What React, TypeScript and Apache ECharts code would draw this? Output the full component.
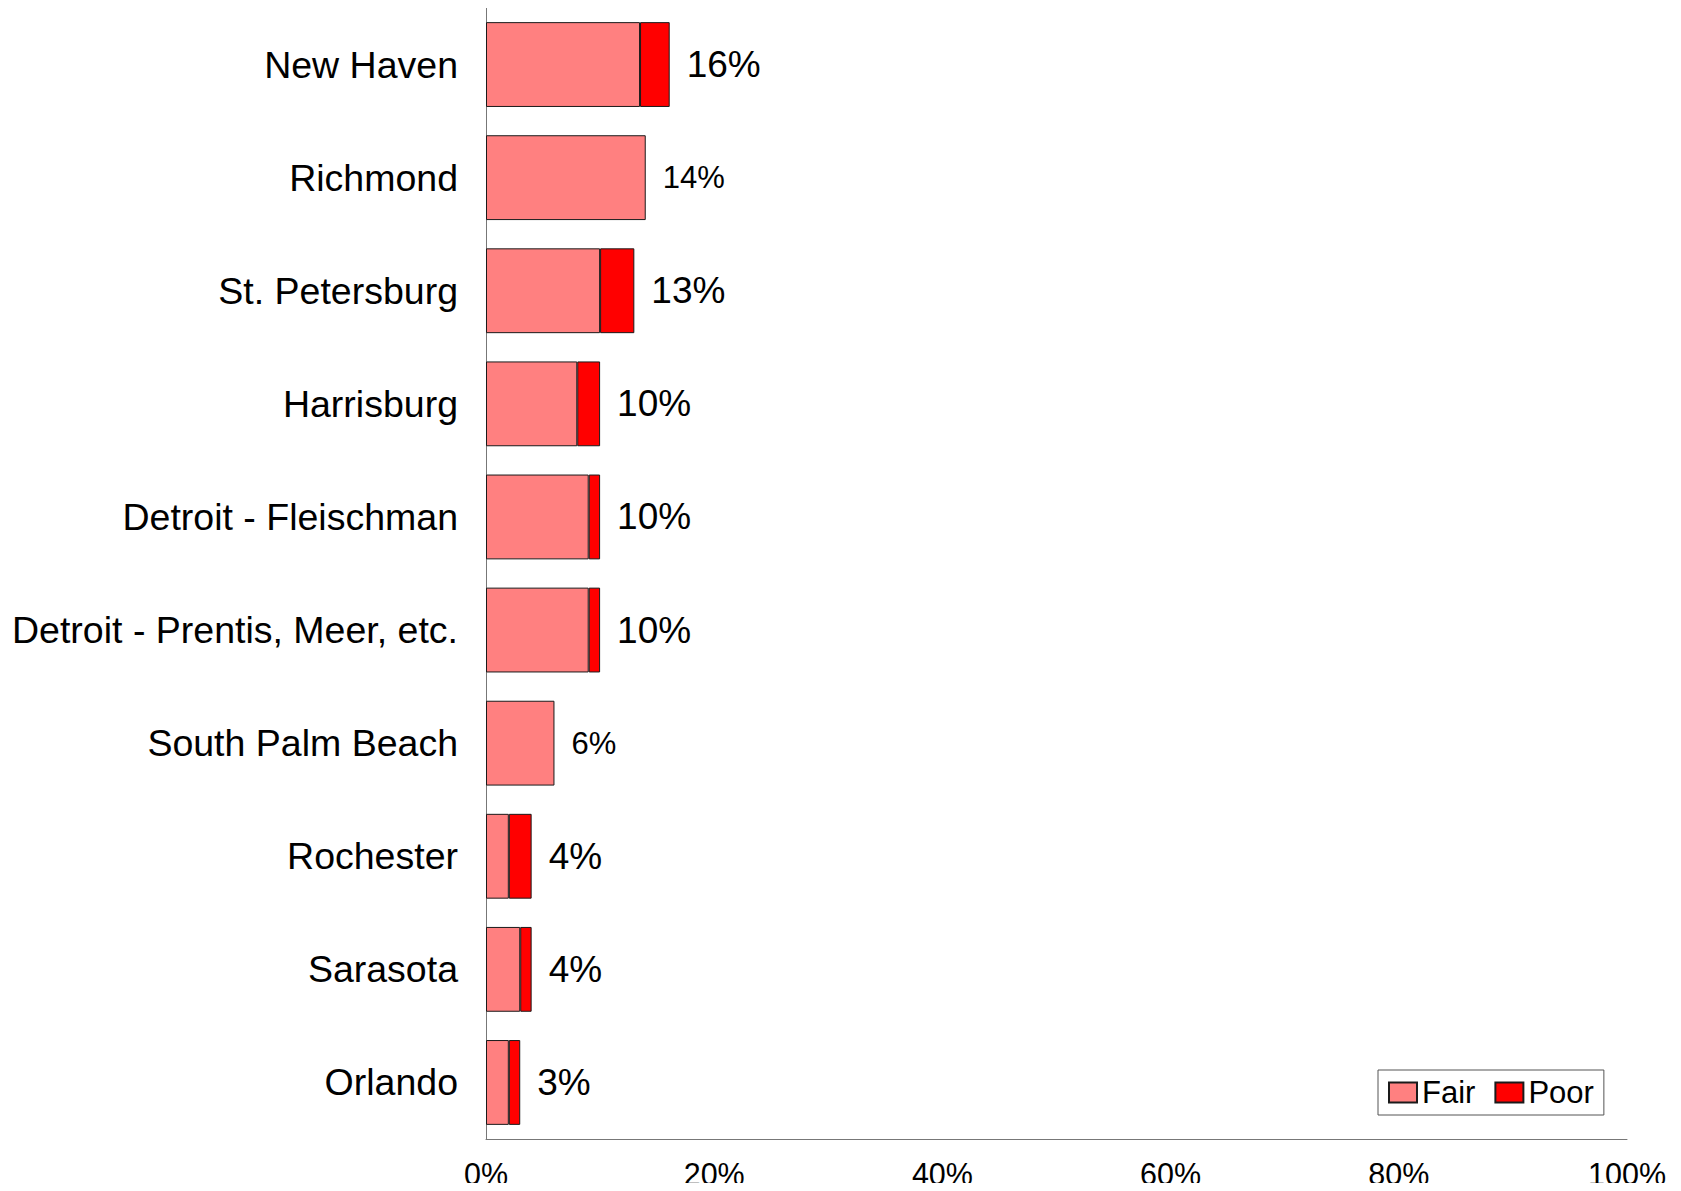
import React, { useEffect, useRef } from "react";
import * as echarts from "echarts";

const categories = [
  "New Haven",
  "Richmond",
  "St. Petersburg",
  "Harrisburg",
  "Detroit - Fleischman",
  "Detroit - Prentis, Meer, etc.",
  "South Palm Beach",
  "Rochester",
  "Sarasota",
  "Orlando",
];
const fairValues = [13.5, 14.0, 10.0, 8.0, 9.0, 9.0, 6.0, 2.0, 3.0, 2.0];
const poorValues = [2.6, 0, 3.0, 2.0, 1.0, 1.0, 0, 2.0, 1.0, 1.0];
const xTicks = [0, 20, 40, 60, 80, 100];

const FONT = "Liberation Sans, Arial, sans-serif";

export default function App() {
  const ref = useRef<HTMLDivElement>(null);
  useEffect(() => {
    if (!ref.current) return;
    const chart = echarts.init(ref.current, null, { renderer: "svg" });
    const border = { borderColor: "#1a1a1a", borderWidth: 1 };
    chart.setOption({
      animation: false,
      textStyle: { fontFamily: FONT },
      grid: {
        left: 478,
        right: 46,
        top: 0,
        bottom: 52,
        containLabel: false,
        outerBoundsMode: "none",
      },
      legend: {
        data: ["Fair", "Poor"],
        left: 1370,
        top: 1062,
        orient: "horizontal",
        borderColor: "#555",
        borderWidth: 1,
        padding: [7, 10, 7, 10],
        itemWidth: 28,
        itemHeight: 20,
        itemGap: 19,
        icon: "rect",
        textStyle: { fontSize: 31, color: "#000", fontFamily: FONT },
      },
      xAxis: {
        type: "value",
        min: xTicks[0],
        max: xTicks[xTicks.length - 1],
        interval: 20,
        axisLine: { show: true, lineStyle: { color: "#777", width: 1 } },
        axisTick: { show: false },
        splitLine: { show: false },
        axisLabel: {
          formatter: (v: number) => (xTicks.includes(v) ? v + "%" : ""),
          fontSize: 30.5,
          color: "#000",
          margin: 19,
          fontFamily: FONT,
        },
      },
      yAxis: {
        type: "category",
        data: categories,
        inverse: true,
        axisLine: { show: true, lineStyle: { color: "#777", width: 1 } },
        axisTick: { show: false },
        axisLabel: {
          fontSize: 37.5,
          color: "#000",
          margin: 28,
          interval: 0,
          fontFamily: FONT,
        },
      },
      series: [
        {
          name: "Fair",
          type: "bar",
          stack: "total",
          barWidth: "75%",
          itemStyle: { color: "#FF8080", ...border },
          data: fairValues,
        },
        {
          name: "Poor",
          type: "bar",
          stack: "total",
          barWidth: "75%",
          itemStyle: { color: "#FF0000", ...border },
          data: poorValues.map((v, i) => ({
            value: v,
            itemStyle: v === 0 ? { borderWidth: 0 } : undefined,
            label: {
              show: true,
              position: "right",
              distance: 17,
              fontSize: v === 0 ? 31 : 37,
              color: "#000",
              fontFamily: FONT,
              formatter: () => Math.round(fairValues[i] + poorValues[i]) + "%",
            },
          })),
        },
      ],
    });
    return () => chart.dispose();
  }, []);
  return <div ref={ref} style={{ width: 1665, height: 1183, marginBottom: -8 }} />;
}
